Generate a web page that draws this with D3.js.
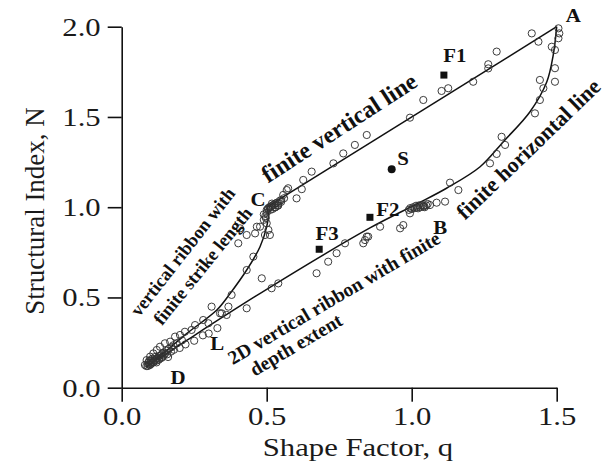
<!DOCTYPE html>
<html>
<head>
<meta charset="utf-8">
<script src="https://cdn.jsdelivr.net/npm/d3@7"></script>
<style>
  html, body { margin: 0; padding: 0; background: #fff; }
  svg { display: block; font-family: 'Liberation Serif', 'Times New Roman', serif; }
</style>
</head>
<body>
<svg id="chart" width="610" height="463"></svg>
<script>
// axis ticks
const xTicks = [0, 0.5, 1.0, 1.5];
const yTicks = [0, 0.5, 1.0, 1.5, 2.0];

// model curves (q, N)
const strikeCurve = [[0.085, 0.115], [0.15, 0.2], [0.224, 0.3], [0.328, 0.43], [0.373, 0.52], [0.431, 0.652], [0.477, 0.781], [0.5, 0.892], [0.506, 0.966], [0.5, 1.0]];
const verticalLine = [[0.5, 1.0], [1.5, 2.0]];
const depthCurve = [[0.085, 0.115], [0.224, 0.262], [0.5, 0.545], [0.856, 0.885], [1.02, 1.02], [1.12, 1.105], [1.236, 1.224], [1.316, 1.363], [1.408, 1.529], [1.466, 1.695], [1.488, 1.843], [1.5, 2.0]];

// open circles: synthetic model estimates
const vertLinePts = [[0.51, 1.0], [0.52, 1.01], [0.53, 1.02], [0.54, 1.02], [0.55, 1.03], [0.52, 0.99], [0.53, 1.0], [0.54, 1.01], [0.55, 1.04], [0.56, 1.05], [0.557, 1.068], [0.569, 1.095], [0.574, 1.105], [0.603, 1.049], [0.621, 1.1], [0.626, 1.151], [0.655, 1.197], [0.73, 1.243], [0.764, 1.298], [0.804, 1.345], [0.845, 1.4], [0.994, 1.496], [1.04, 1.594], [1.103, 1.644], [1.126, 1.659], [1.212, 1.695], [1.264, 1.769], [1.264, 1.792], [1.293, 1.862], [1.414, 1.963], [1.437, 1.917],
  [0.505, 0.995], [0.515, 1.005], [0.525, 1.015], [0.535, 1.025], [0.545, 1.035], [0.512, 0.985], [0.528, 0.998], [0.538, 1.008], [0.5, 0.985], [0.518, 1.02]];
const horizLinePts = [[1.506, 1.991], [1.509, 1.963], [1.506, 1.936], [1.483, 1.889], [1.494, 1.871], [1.494, 1.77], [1.442, 1.705], [1.494, 1.695], [1.454, 1.659], [1.442, 1.594], [1.425, 1.52], [1.31, 1.39], [1.322, 1.345], [1.293, 1.295], [1.27, 1.243], [1.132, 1.136], [1.161, 1.095], [1.115, 1.031], [1.086, 1.025], [1.063, 1.012], [1.04, 1.003], [1.017, 0.999], [1.03, 1.0], [1.05, 1.01], [1.0, 0.99], [1.01, 0.995], [1.045, 1.0], [1.025, 1.01],
  [0.99, 0.985], [1.005, 1.0], [1.015, 1.008], [1.035, 1.012], [1.055, 1.018], [0.995, 0.995], [1.022, 0.994], [1.042, 1.008]];
const depthPts = [[0.994, 0.966], [0.971, 0.901], [0.96, 0.883], [0.891, 0.892], [0.845, 0.837], [0.833, 0.8], [0.85, 0.837], [0.839, 0.818], [0.77, 0.8], [0.741, 0.745], [0.712, 0.698], [0.672, 0.634], [0.54, 0.578], [0.517, 0.551], [0.431, 0.44], [0.22, 0.24], [0.25, 0.26], [0.28, 0.29], [0.3, 0.3], [0.33, 0.33], [0.2, 0.22], [0.17, 0.2], [0.14, 0.17], [0.12, 0.15], [0.1, 0.13], [0.11, 0.14], [0.13, 0.16], [0.15, 0.19], [0.16, 0.17], [0.18, 0.21]];
const strikePts = [[0.402, 0.8], [0.408, 0.883], [0.431, 0.846], [0.46, 0.855], [0.466, 0.892], [0.477, 0.892], [0.5, 0.911], [0.494, 0.846], [0.506, 0.874], [0.511, 0.846], [0.454, 0.726], [0.431, 0.652], [0.483, 0.606], [0.379, 0.514], [0.368, 0.449], [0.31, 0.449], [0.345, 0.412], [0.49, 0.93], [0.495, 0.95], [0.5, 0.97], [0.505, 0.99], [0.49, 0.96], [0.497, 0.94], [0.339, 0.412], [0.362, 0.403], [0.299, 0.357], [0.281, 0.375], [0.253, 0.347], [0.241, 0.32], [0.218, 0.31], [0.201, 0.292], [0.184, 0.283], [0.167, 0.255], [0.149, 0.246], [0.132, 0.227], [0.121, 0.209], [0.109, 0.19], [0.098, 0.172], [0.086, 0.153], [0.08, 0.126], [0.09, 0.12], [0.1, 0.14], [0.095, 0.15], [0.105, 0.16], [0.115, 0.17]];
const clusterD = [[0.085, 0.12], [0.092, 0.13], [0.097, 0.125], [0.103, 0.135], [0.108, 0.145], [0.113, 0.15], [0.118, 0.16], [0.124, 0.165], [0.128, 0.175], [0.135, 0.18], [0.14, 0.19], [0.146, 0.195], [0.155, 0.205], [0.162, 0.215], [0.172, 0.225], [0.178, 0.235], [0.19, 0.245], [0.208, 0.262], [0.092, 0.14], [0.1, 0.15], [0.12, 0.14], [0.128, 0.155], [0.137, 0.165], [0.145, 0.178], [0.157, 0.185]];

// field examples
const squares = [{ name: 'F1', q: 1.111, n: 1.732 }, { name: 'F2', q: 0.856, n: 0.944 }, { name: 'F3', q: 0.681, n: 0.767 }];
const dots = [{ name: 'S', q: 0.931, n: 1.21 }];

// annotations: text, q, N, angle, size
const pointLabels = [
  ['A', 1.557, 2.064], ['B', 1.098, 0.889], ['C', 0.47, 1.045], ['D', 0.194, 0.059], ['L', 0.329, 0.248],
  ['S', 0.97, 1.272], ['F1', 1.149, 1.843], ['F2', 0.918, 0.99], ['F3', 0.708, 0.857]
];
const curveLabels = [
  ['finite vertical line', 0.75, 1.44, -33, 24],
  ['finite horizontal line', 1.402, 1.322, -44, 22],
  ['vertical ribbon with', 0.211, 0.752, -52, 18.5],
  ['finite strike length', 0.28, 0.674, -51, 18.5],
  ['2D vertical ribbon with finite', 0.732, 0.497, -30.5, 19.5],
  ['depth extent', 0.601, 0.237, -30.5, 19.5]
];

const svg = d3.select('#chart');
const x = d3.scaleLinear().domain([0, 1.5]).range([121.7, 556.7]);
const y = d3.scaleLinear().domain([0, 2]).range([387.7, 26.7]);
const stretch = 1.18;

const gx = svg.append('g').attr('transform', `translate(0,${y(0)})`)
  .call(d3.axisBottom(x).tickValues(xTicks).tickFormat(d3.format('.1f')).tickSize(14).tickSizeOuter(0).tickPadding(5));
const gy = svg.append('g').attr('transform', `translate(${x(0)},0)`)
  .call(d3.axisLeft(y).tickValues(yTicks).tickFormat(d3.format('.1f')).tickSize(14).tickSizeOuter(0).tickPadding(7));

[gx, gy].forEach((g) => {
  g.select('.domain').attr('stroke', '#111').attr('stroke-width', 1.6);
  g.selectAll('.tick line').attr('stroke', '#111').attr('stroke-width', 1.6);
  g.selectAll('.tick text')
    .attr('font-family', "'Liberation Serif', serif")
    .attr('font-size', 26)
    .attr('fill', '#1a1a1a')
    .each(function () {
      const t = d3.select(this);
      const tx = +t.attr('x') || 0;
      const ty = +t.attr('y') || 0;
      t.attr('x', 0).attr('y', 0).attr('transform', `translate(${tx},${ty}) scale(${stretch},1)`);
    });
  g.attr('font-family', null).attr('font-size', null);
});

svg.append('text')
  .attr('transform', `translate(358,456) scale(${stretch},1)`)
  .attr('text-anchor', 'middle')
  .attr('font-size', 26)
  .attr('fill', '#1a1a1a')
  .text('Shape Factor, q');

svg.append('text')
  .attr('transform', 'translate(44,211) rotate(-90)')
  .attr('text-anchor', 'middle')
  .attr('font-size', 27)
  .attr('fill', '#1a1a1a')
  .text('Structural Index, N');

const line = d3.line().x((d) => x(d[0])).y((d) => y(d[1])).curve(d3.curveCatmullRom);
const curves = svg.append('g').attr('fill', 'none').attr('stroke', '#111').attr('stroke-width', 1.5);
[strikeCurve, verticalLine, depthCurve].forEach((c) => curves.append('path').attr('d', line(c)));

const circles = svg.append('g').attr('fill', 'none').attr('stroke', '#333').attr('stroke-width', 0.95);
circles.selectAll('circle')
  .data([...vertLinePts, ...horizLinePts, ...depthPts, ...strikePts, ...clusterD])
  .join('circle')
  .attr('cx', (d) => x(d[0]))
  .attr('cy', (d) => y(d[1]))
  .attr('r', 3.6);

svg.append('g').selectAll('rect')
  .data(squares)
  .join('rect')
  .attr('x', (d) => x(d.q) - 3.5)
  .attr('y', (d) => y(d.n) - 3.5)
  .attr('width', 7)
  .attr('height', 7)
  .attr('fill', '#111');

svg.append('g').selectAll('circle')
  .data(dots)
  .join('circle')
  .attr('cx', (d) => x(d.q))
  .attr('cy', (d) => y(d.n))
  .attr('r', 4)
  .attr('fill', '#111');

svg.append('g').selectAll('text')
  .data(pointLabels)
  .join('text')
  .attr('transform', (d) => `translate(${x(d[1])},${y(d[2])}) scale(1.1,1)`)
  .attr('text-anchor', 'middle')
  .attr('dominant-baseline', 'central')
  .attr('font-weight', 'bold')
  .attr('font-size', 19)
  .attr('fill', '#111')
  .text((d) => d[0]);

svg.append('g').selectAll('text')
  .data(curveLabels)
  .join('text')
  .attr('transform', (d) => `translate(${x(d[1])},${y(d[2])}) rotate(${d[3]})`)
  .attr('text-anchor', 'middle')
  .attr('dominant-baseline', 'central')
  .attr('font-weight', 'bold')
  .attr('font-size', (d) => d[4])
  .attr('fill', '#111')
  .text((d) => d[0]);
</script>
</body>
</html>
